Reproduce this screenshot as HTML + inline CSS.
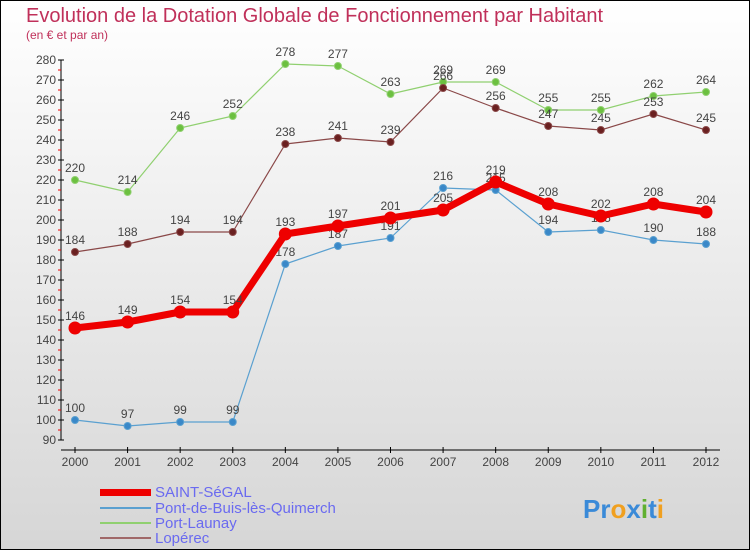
<!DOCTYPE html>
<html><head><meta charset="utf-8"><style>
body{margin:0}
#c{width:750px;height:550px;position:relative;box-sizing:border-box;border:1px solid #000;background:linear-gradient(#fff,#d6d6d6);font-family:"Liberation Sans",sans-serif;overflow:hidden}
</style></head><body>
<div id="c">
<svg id="s" width="750" height="550" style="position:absolute;left:-1px;top:-1px">
<text x="26" y="22" font-size="20" fill="#c0305a">Evolution de la Dotation Globale de Fonctionnement par Habitant</text>
<text x="26" y="39" font-size="12" fill="#c0305a">(en € et par an)</text>
<g id="axes"></g><g id="series"></g>
<g>
<rect x="100" y="489" width="51" height="7" fill="#e00"/>
<text x="155" y="497" font-size="15" fill="#6a6af0">SAINT-SéGAL</text>
<rect x="100" y="507" width="51" height="2" fill="#5aa0d0"/>
<text x="155" y="513" font-size="15" fill="#6a6af0">Pont-de-Buis-lès-Quimerch</text>
<rect x="100" y="522" width="51" height="2" fill="#90d070"/>
<text x="155" y="528" font-size="15" fill="#6a6af0">Port-Launay</text>
<rect x="100" y="537" width="51" height="2" fill="#a06868"/>
<text x="155" y="543" font-size="15" fill="#6a6af0">Lopérec</text>
</g>
<text x="583" y="518" font-size="26" font-weight="bold"><tspan fill="#3a8ad8">Pr</tspan><tspan fill="#f0a020">o</tspan><tspan fill="#3a8ad8">x</tspan><tspan fill="#60b030">i</tspan><tspan fill="#3a8ad8">t</tspan><tspan fill="#f0a020">i</tspan></text>
</svg>
</div>
<script>
const years=[2000,2001,2002,2003,2004,2005,2006,2007,2008,2009,2010,2011,2012];
const saint=[146,149,154,154,193,197,201,205,219,208,202,208,204];
const pont=[100,97,99,99,178,187,191,216,215,194,195,190,188];
const portLaunay=[220,214,246,252,278,277,263,269,269,255,255,262,264];
const loperec=[184,188,194,194,238,241,239,266,256,247,245,253,245];
const yTicks=[90,100,110,120,130,140,150,160,170,180,190,200,210,220,230,240,250,260,270,280];
const NS="http://www.w3.org/2000/svg";
const X=i=>75+i*(706-75)/12;
const Y=v=>60+(280-v)*2;
function mk(t,a,p){const e=document.createElementNS(NS,t);for(const k in a)e.setAttribute(k,a[k]);p.appendChild(e);return e;}
const ax=document.getElementById('axes');
mk('line',{x1:61,y1:60,x2:61,y2:440,stroke:'#000'},ax);
yTicks.forEach(v=>{mk('line',{x1:58,y1:Y(v),x2:64,y2:Y(v),stroke:'#000'},ax);
 if(v<280)mk('line',{x1:58,y1:Y(v+5),x2:61,y2:Y(v+5),stroke:'#e00'},ax);
 const t=mk('text',{x:56,y:Y(v)+4,'font-size':12,fill:'#444','text-anchor':'end'},ax);t.textContent=v;
 
 });
mk('line',{x1:61,y1:450,x2:720,y2:450,stroke:'#000'},ax);
years.forEach((y,i)=>{mk('line',{x1:X(i),y1:447,x2:X(i),y2:453,stroke:'#000'},ax);
 const t=mk('text',{x:X(i),y:466,'font-size':12,fill:'#444','text-anchor':'middle'},ax);t.textContent=y;
 
 });
const sg=document.getElementById('series');
function series(vals,color,w,r,fill,name){
 const g=mk('g',{},sg);
 
 
 mk('polyline',{points:vals.map((v,i)=>X(i)+','+Y(v)).join(' '),fill:'none',stroke:color,'stroke-width':w,'stroke-linejoin':'round'},g);
 vals.forEach((v,i)=>{const c=mk('circle',{cx:X(i),cy:Y(v),r:r,fill:fill,stroke:color,'stroke-width':1},g);
  
  
  const t=mk('text',{x:X(i),y:Y(v)-8,'font-size':12,fill:'#444','text-anchor':'middle'},g);t.textContent=v;
  
  });
}
series(portLaunay,'#90d070',1.2,3.5,'#6cc040','series-port-launay');
series(loperec,'#8a4848',1.2,3.5,'#6a2020','series-loperec');
series(pont,'#5aa0d0',1.2,3.5,'#3a88c8','series-pont');
series(saint,'#ee0000',7,6,'#ee0000','series-saint-segal');
</script>
</body></html>
